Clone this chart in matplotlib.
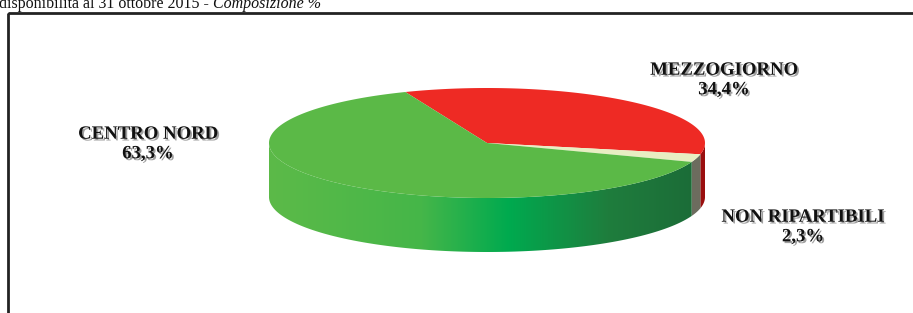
import numpy as np
import matplotlib.pyplot as plt
import matplotlib.patheffects as pe
from matplotlib.patches import Polygon, Rectangle
from matplotlib.colors import LinearSegmentedColormap

labels = ['MEZZOGIORNO', 'NON RIPARTIBILI', 'CENTRO NORD']
values = [34.4, 2.3, 63.3]
top_colors = ['#ee2a24', '#e8eec2', '#5bb947']
side_colors = ['#9a0e0e', '#6c6c5e', None]
title_main = 'disponibilità al 31 ottobre 2015 - '
title_ital = 'Composizione %'

W, H = 913, 313
fig = plt.figure(figsize=(W / 100, H / 100), dpi=100)
ax = fig.add_axes([0, 0, 1, 1])
ax.set_xlim(0, W)
ax.set_ylim(H, 0)
ax.axis('off')

# pie geometry (pixel space)
cx, cy, a, b, depth = 487, 143, 218, 55, 54
start = 112.0


def pt(t, dz=0.0):
    t = np.radians(t)
    return np.column_stack([cx + a * np.cos(t), cy - b * np.sin(t) + dz])


# slice angle ranges, clockwise from start
fr = np.array(values) / sum(values) * 360
ends = start - np.cumsum(fr)
starts = ends + fr

# side walls (front half: angles between -180 and 0)
green_cmap = LinearSegmentedColormap.from_list(
    'g', [(0, '#5cba48'), (0.35, '#45b649'), (0.55, '#00aa4f'),
          (0.78, '#1f7d3d'), (1, '#1b6a37')])
for i in range(len(values)):
    lo, hi = ends[i], starts[i]
    if lo < -180:
        lo = -180.0
    hi = min(hi, 0.0)
    if hi <= lo:
        continue
    t = np.linspace(lo, hi, 200)
    poly = np.vstack([pt(t), pt(t[::-1], depth)])
    if side_colors[i] is not None:
        ax.add_patch(Polygon(poly, closed=True, fc=side_colors[i], ec='none'))
    else:
        p = Polygon(poly, closed=True, fc='none', ec='none')
        ax.add_patch(p)
        grad = np.linspace(0, 1, 512).reshape(1, -1)
        im = ax.imshow(grad, cmap=green_cmap, aspect='auto',
                       extent=(cx - a, cx + a, cy + b + depth + 2, cy - 2),
                       zorder=1)
        im.set_clip_path(p)

# top faces
for i in range(len(values)):
    t = np.linspace(ends[i], starts[i], 300)
    poly = np.vstack([[cx, cy], pt(t)])
    ax.add_patch(Polygon(poly, closed=True, fc=top_colors[i], ec='none', zorder=2))

# labels
shadow = [pe.SimplePatchShadow(offset=(1.3, -1.3), shadow_rgbFace='#777777', alpha=0.7), pe.Normal()]
label_xy = [(724, 80), (803, 227), (148, 144)]
for lab, v, (x, y) in zip(labels, values, label_xy):
    ax.text(x, y, f'{lab}\n{v:.1f}%'.replace('.', ','), ha='center', va='center',
            fontsize=13.5, fontweight='bold', family='Liberation Serif',
            color='#111111', linespacing=1.2, path_effects=shadow, zorder=5)

# frame and cropped title
ax.add_patch(Rectangle((8, 13), 930, 320, fill=False, ec='#222222', lw=2, clip_on=False))
t1 = ax.text(-1, 8, title_main, fontsize=11.5, family='Liberation Serif',
             color='#111111', va='baseline', ha='left')
fig.canvas.draw()
bb = t1.get_window_extent()
x2 = ax.transData.inverted().transform((bb.x1, bb.y0))[0]
ax.text(x2, 8, title_ital, fontsize=11.5, family='Liberation Serif', style='italic',
        color='#111111', va='baseline', ha='left')

fig.savefig('out.png', dpi=100)
